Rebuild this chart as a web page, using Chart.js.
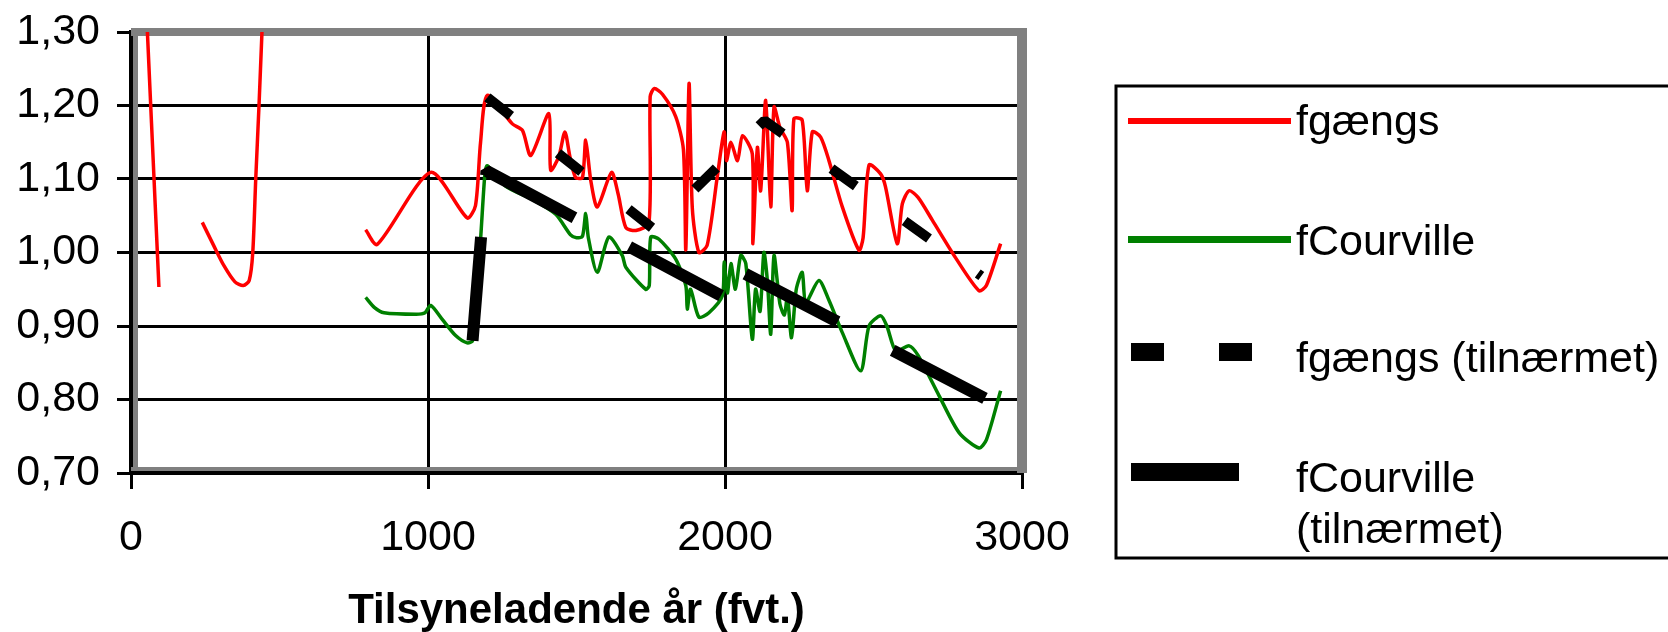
<!DOCTYPE html>
<html>
<head>
<meta charset="utf-8">
<title>fgængs og fCourville</title>
<script src="https://cdn.jsdelivr.net/npm/chart.js@4.4.1/dist/chart.umd.min.js"></script>
<style>
  html, body { margin: 0; padding: 0; background: #fff; }
  canvas { display: block; }
</style>
</head>
<body>
<canvas id="chart" width="1668" height="632"></canvas>
<script>
// ==========================
// DATA (null = break in the line)
// ==========================
const gaengsYear = [
  44, 94, 160,
  240, 279, 313, 350, 378, 398, 410, 420, 431, 441, 452, 600,
  790, 829, 1009, 1132, 1160, 1177, 1200, 1284, 1318, 1346, 1407, 1413, 1440, 1461,
  1478, 1497, 1520, 1531, 1548, 1570, 1618, 1640, 1666, 1700, 1744, 1748, 1762, 1790,
  1834, 1860, 1868, 1879, 1890, 1912, 1940, 1974, 1997, 2005, 2020, 2042, 2059, 2092,
  2094, 2109, 2120, 2137, 2154, 2165, 2185, 2210, 2226, 2232, 2260, 2277, 2294, 2322,
  2350, 2395, 2451, 2465, 2485, 2524, 2540, 2580, 2597, 2620, 2650, 2698, 2776, 2855,
  2880, 2928
];
const gaengsVal = [
  1.40, 0.953, null,
  1.041, 1.009, 0.982, 0.960, 0.955, 0.962, 1.000, 1.100, 1.200, 1.300, 1.400, null,
  1.031, 1.011, 1.109, 1.047, 1.064, 1.150, 1.214, 1.175, 1.166, 1.132, 1.189, 1.112, 1.130, 1.164,
  1.130, 1.102, 1.102, 1.153, 1.098, 1.062, 1.109, 1.080, 1.034, 1.030, 1.040, 1.212, 1.223, 1.215,
  1.185, 1.140, 1.004, 1.230, 1.060, 1.000, 1.010, 1.103, 1.164, 1.125, 1.150, 1.125, 1.159, 1.134,
  1.012, 1.143, 1.084, 1.207, 1.062, 1.198, 1.170, 1.150, 1.057, 1.182, 1.180, 1.084, 1.164, 1.157,
  1.125, 1.062, 1.003, 1.020, 1.119, 1.107, 1.090, 1.012, 1.066, 1.084, 1.075, 1.044, 0.993, 0.948,
  0.955, 1.012
];

const courvilleYear = [
  790, 820, 852, 960, 990, 1009, 1048, 1093, 1132, 1150, 1177, 1192, 1200, 1262, 1352,
  1430, 1480, 1500, 1520, 1531, 1540, 1570, 1609, 1654, 1666, 1733, 1745, 1750, 1778,
  1834, 1868, 1873, 1884, 1912, 1946, 1991, 1997, 2008, 2020, 2035, 2053, 2070, 2092,
  2103, 2118, 2131, 2143, 2154, 2165, 2185, 2200, 2210, 2224, 2240, 2260, 2272, 2316,
  2350, 2395, 2457, 2485, 2524, 2545, 2575, 2620, 2650, 2721, 2788, 2855, 2880, 2928
];
const courvilleVal = [
  0.939, 0.925, 0.918, 0.916, 0.918, 0.928, 0.909, 0.887, 0.877, 0.880, 1.018, 1.109, 1.118, 1.090, 1.072,
  1.052, 1.024, 1.020, 1.022, 1.053, 1.020, 0.973, 1.021, 0.996, 0.980, 0.950, 0.955, 1.021, 1.018,
  0.991, 0.955, 0.923, 0.950, 0.912, 0.918, 0.941, 0.987, 0.945, 0.985, 0.950, 0.996, 0.985, 0.882,
  0.950, 0.920, 1.000, 0.960, 0.889, 0.996, 0.930, 0.915, 0.940, 0.884, 0.950, 0.973, 0.932, 0.962,
  0.935, 0.891, 0.839, 0.900, 0.914, 0.900, 0.866, 0.873, 0.860, 0.805, 0.755, 0.734, 0.745, 0.812
];

// approximations
const gaengsFitYear = [1200, 1761, 2133, 2863];
const gaengsFitVal = [1.211, 1.0315, 1.1795, 0.968];
const courvilleFitYear = [1150, 1197, 2030, 2030, 2878];
const courvilleFitVal = [0.880, 1.111, 0.932, 0.979, 0.801];

const xTicks = [0, 1000, 2000, 3000];
const yTicks = [0.70, 0.80, 0.90, 1.00, 1.10, 1.20, 1.30];
const seriesNames = ["fgængs", "fCourville", "fgængs (tilnærmet)", "fCourville\n(tilnærmet)"];
const xTitle = "Tilsyneladende år (fvt.)";

const toPoints = (xs, ys) => xs.map((x, i) => ({ x: x, y: ys[i] }));

// ==========================
// PLUGINS
// ==========================
// grey plot area frame, drawn over the grid but under the lines
const plotFrame = {
  id: "plotFrame",
  beforeDatasetsDraw(chart) {
    const { ctx } = chart;
    const { left, top, right, bottom } = chart.chartArea;
    ctx.save();
    ctx.fillStyle = "#808080";
    ctx.fillRect(left, top - 4, right - left + 5, 8);
    ctx.fillRect(right - 5, top - 4, 10, bottom - top + 4);
    ctx.fillRect(left, bottom - 6, right - left, 4);
    ctx.fillRect(left + 2, top, 5, bottom - top - 2);
    ctx.restore();
  }
};

// boxed legend on the right
const sideLegend = {
  id: "sideLegend",
  afterDraw(chart) {
    const { ctx } = chart;
    const ds = chart.data.datasets;
    ctx.save();
    ctx.strokeStyle = "#000";
    ctx.lineWidth = 3;
    ctx.strokeRect(1116, 86, 620, 472);

    ctx.fillStyle = ds[0].borderColor;
    ctx.fillRect(1128, 118, 163, 6);
    ctx.fillStyle = ds[1].borderColor;
    ctx.fillRect(1128, 236, 163, 7);
    ctx.fillStyle = ds[2].borderColor;
    ctx.fillRect(1131, 343, 33, 18);
    ctx.fillRect(1219, 343, 33, 18);
    ctx.fillStyle = ds[3].borderColor;
    ctx.fillRect(1131, 463, 108, 18);

    ctx.fillStyle = "#000";
    ctx.font = "43px 'Liberation Sans', Arial, sans-serif";
    ctx.textBaseline = "alphabetic";
    ctx.textAlign = "left";
    const baselines = [[135], [255], [372], [492, 543]];
    seriesNames.forEach((name, i) => {
      name.split("\n").forEach((line, j) => ctx.fillText(line, 1296, baselines[i][j]));
    });
    ctx.restore();
  }
};

// ==========================
// CHART
// ==========================
const tickFont = { family: "'Liberation Sans', Arial, sans-serif", size: 43 };

new Chart(document.getElementById("chart"), {
  type: "line",
  data: {
    datasets: [
      {
        label: seriesNames[0],
        data: toPoints(gaengsYear, gaengsVal),
        borderColor: "#ff0000",
        borderWidth: 3.5,
        tension: 0.25,
        order: 2
      },
      {
        label: seriesNames[1],
        data: toPoints(courvilleYear, courvilleVal),
        borderColor: "#008000",
        borderWidth: 3.5,
        tension: 0.25,
        order: 3
      },
      {
        label: seriesNames[2],
        data: toPoints(gaengsFitYear, gaengsFitVal),
        borderColor: "#000000",
        borderWidth: 10,
        borderDash: [30, 60],
        borderCapStyle: "butt",
        borderJoinStyle: "bevel",
        tension: 0,
        order: 1
      },
      {
        label: seriesNames[3],
        data: toPoints(courvilleFitYear, courvilleFitVal),
        borderColor: "#000000",
        borderWidth: 12,
        borderDash: [104, 62],
        borderCapStyle: "butt",
        borderJoinStyle: "bevel",
        tension: 0,
        order: 0
      }
    ]
  },
  options: {
    responsive: false,
    animation: false,
    spanGaps: false,
    layout: { padding: { top: 32, right: 646, bottom: 0, left: 0 } },
    elements: { point: { radius: 0, hoverRadius: 0 } },
    plugins: { legend: { display: false }, tooltip: { enabled: false } },
    scales: {
      x: {
        type: "linear",
        min: 0,
        max: 3000,
        afterFit: s => { s.height = 159; },
        afterBuildTicks: s => { s.ticks = xTicks.map(v => ({ value: v })); },
        grid: { color: "#000", lineWidth: 3, tickLength: 16, tickColor: "#000", tickWidth: 3 },
        border: { color: "#000", width: 4 },
        ticks: { color: "#000", font: tickFont, padding: 23, maxRotation: 0, callback: v => String(v) },
        title: {
          display: true,
          text: xTitle,
          color: "#000",
          font: { family: "'Liberation Sans', Arial, sans-serif", size: 42, weight: "bold", lineHeight: 1 },
          padding: 0
        }
      },
      y: {
        min: 0.7,
        max: 1.3,
        // fixed axis width; label overhang must not push the plot down
        afterFit: s => { s.width = 131; s.paddingTop = 0; s.paddingBottom = 0; },
        afterBuildTicks: s => { s.ticks = yTicks.map(v => ({ value: v })); },
        grid: { color: "#000", lineWidth: 3, tickLength: 14, tickColor: "#000", tickWidth: 3 },
        border: { color: "#000", width: 4 },
        ticks: { color: "#000", font: tickFont, padding: 17, callback: v => v.toFixed(2).replace(".", ",") }
      }
    }
  },
  plugins: [plotFrame, sideLegend]
});
</script>
</body>
</html>
